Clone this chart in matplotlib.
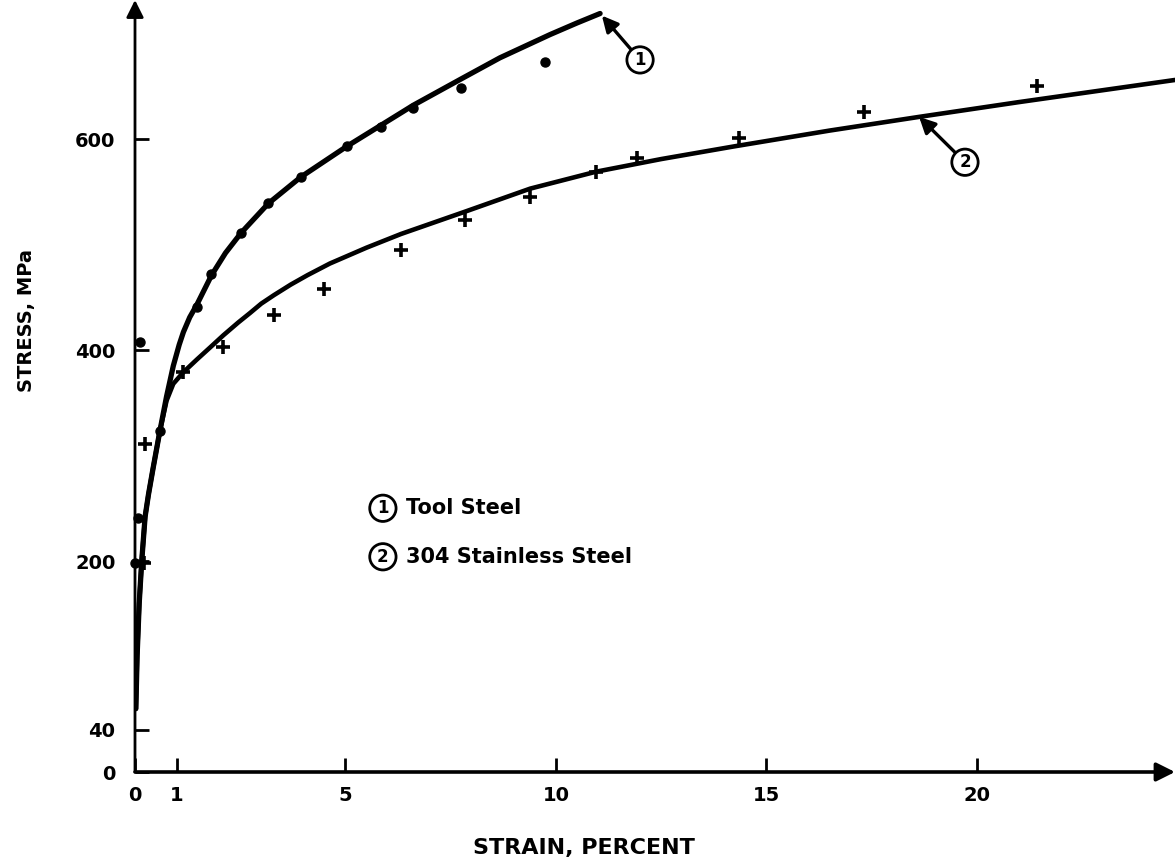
import matplotlib
matplotlib.use("Agg")
import matplotlib.pyplot as plt

# fitted curves (strain %, stress MPa)
tool_curve_x = [0.02, 0.05, 0.10, 0.16, 0.24, 0.32, 0.43, 0.59, 0.75, 0.91, 1.05, 1.15, 1.30,
                1.47, 1.82, 2.15, 2.52, 3.17, 3.94, 5.03, 5.84, 6.61, 7.75, 8.67, 9.86, 10.5, 11.05]
tool_curve_y = [60, 110, 160, 200, 242, 263, 288, 323, 356, 385, 405, 417, 431,
                443, 471, 492, 511, 539, 564, 593, 613, 632, 657, 677, 699, 710, 719]

ss_curve_x = [0.02, 0.05, 0.10, 0.16, 0.24, 0.32, 0.43, 0.59, 0.75, 0.91, 1.15, 1.47, 1.80,
              2.10, 2.45, 2.73, 3.00, 3.30, 3.70, 4.10, 4.63, 5.50, 6.32, 7.83, 9.39, 10.95,
              12.5, 14.23, 16.5, 18.63, 21.0, 24.71]
ss_curve_y = [60, 110, 160, 200, 242, 263, 288, 323, 352, 368, 379, 391, 403,
              414, 426, 435, 444, 452, 462, 471, 482, 497, 510, 531, 553, 569,
              581, 593, 608, 621, 635, 656]

# measured points
tool_pts_x = [0.0, 0.08, 0.13, 0.59, 1.47, 1.81, 2.52, 3.17, 3.94, 5.03, 5.84, 6.61, 7.75, 9.74]
tool_pts_y = [198, 241, 408, 323, 441, 472, 511, 539, 564, 593, 611, 629, 648, 673]

ss_pts_x = [0.22, 0.24, 1.15, 2.10, 3.30, 4.48, 6.32, 7.83, 9.39, 10.95, 11.92, 14.36, 17.32, 21.44]
ss_pts_y = [198, 311, 379, 403, 433, 458, 495, 523, 545, 569, 582, 601, 626, 650]

x_ticks = [0, 1, 5, 10, 15, 20]
y_ticks = [0, 40, 200, 400, 600]

plt.rcParams['font.family'] = ['DejaVu Sans']
plt.rcParams['font.weight'] = 'bold'

fig = plt.figure(figsize=(11.75, 8.64), dpi=100)
ax = fig.add_axes([135 / 1175, 92 / 864, 1040 / 1175, 772 / 864])
ax.set_xlim(0, 24.71)
ax.set_ylim(0, 731.8)

for s in ax.spines.values():
    s.set_visible(False)

# axes drawn as arrows
ax.annotate('', xy=(1.0, 0), xytext=(0, 0), xycoords='axes fraction',
            arrowprops=dict(arrowstyle='-|>', lw=2.6, color='black',
                            mutation_scale=28, shrinkA=0, shrinkB=0))
ax.annotate('', xy=(0, 1.0), xytext=(0, 0), xycoords='axes fraction',
            arrowprops=dict(arrowstyle='-|>', lw=2.0, color='black',
                            mutation_scale=26, shrinkA=0, shrinkB=0))

ax.plot(tool_curve_x, tool_curve_y, color='black', lw=3.8, solid_capstyle='round',
        solid_joinstyle='round')
ax.plot(ss_curve_x, ss_curve_y, color='black', lw=3.3, solid_capstyle='round',
        solid_joinstyle='round')
ax.plot(tool_pts_x, tool_pts_y, 'o', color='black', ms=6.5, clip_on=False)
ax.plot(ss_pts_x, ss_pts_y, '+', color='black', ms=10, mew=2.6, clip_on=False)

ax.set_xticks(x_ticks)
ax.set_xticklabels([str(v) for v in x_ticks])
ax.set_yticks(y_ticks)
ax.set_yticklabels([str(v) for v in y_ticks])
ax.tick_params(axis='x', direction='in', length=10, width=2, pad=10, labelsize=14)
ax.tick_params(axis='y', direction='in', length=10, width=2, pad=14, labelsize=14)

ax.set_xlabel('STRAIN, PERCENT', fontsize=16, fontweight='bold')
ax.xaxis.set_label_coords(0.432, -0.086)
ax.set_ylabel('STRESS, MPa', fontsize=14, fontweight='bold')
ax.yaxis.set_label_coords(-0.095, 0.585)

circ = dict(boxstyle='circle,pad=0.25', fc='white', ec='black', lw=2)

# curve callouts
ax.annotate('1', xy=(tool_curve_x[-1], tool_curve_y[-1]), xytext=(12.0, 675),
            ha='center', va='center', fontsize=12, bbox=circ,
            arrowprops=dict(arrowstyle='-|>', lw=2.4, color='black',
                            mutation_scale=24, shrinkA=0, shrinkB=2))
ax.annotate('2', xy=(18.63, 621), xytext=(19.72, 578),
            ha='center', va='center', fontsize=12, bbox=circ,
            arrowprops=dict(arrowstyle='-|>', lw=2.4, color='black',
                            mutation_scale=24, shrinkA=0, shrinkB=0))

# key
ax.text(5.89, 250, '1', ha='center', va='center', fontsize=12, bbox=circ)
ax.text(6.45, 250, 'Tool Steel', ha='left', va='center', fontsize=15)
ax.text(5.89, 204, '2', ha='center', va='center', fontsize=12, bbox=circ)
ax.text(6.45, 204, '304 Stainless Steel', ha='left', va='center', fontsize=15)

fig.savefig('out.png', dpi=100)
